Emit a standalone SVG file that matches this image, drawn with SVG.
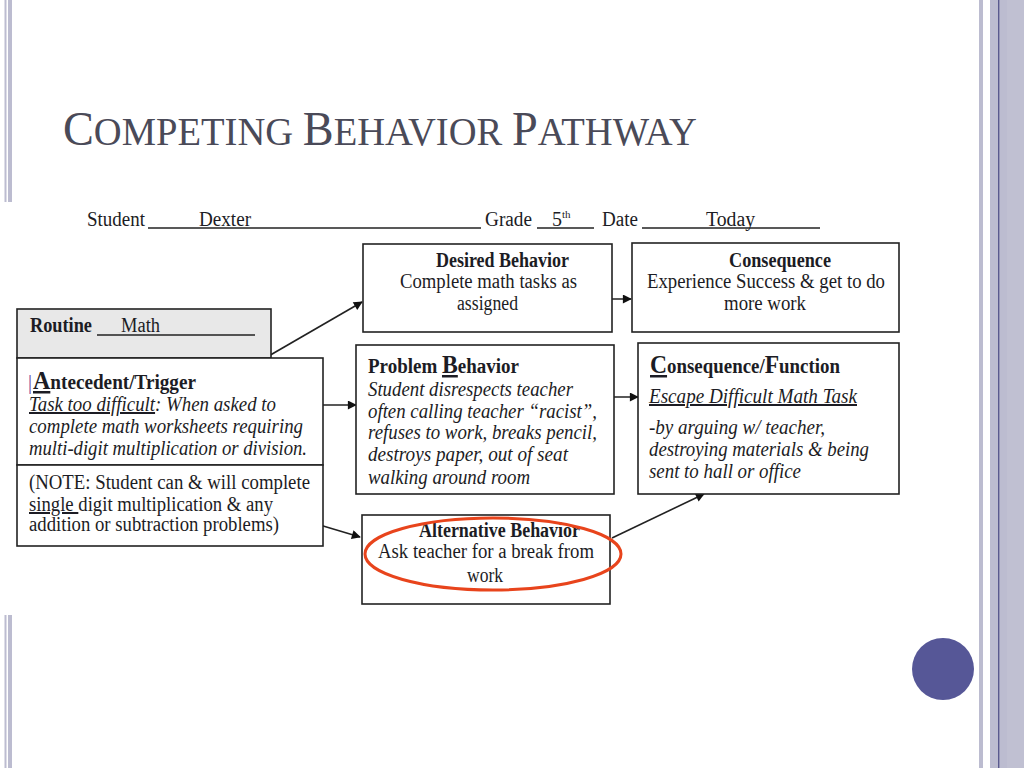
<svg xmlns="http://www.w3.org/2000/svg" width="1024" height="768" viewBox="0 0 1024 768">
<style>
.t{font-family:"Liberation Serif","Times New Roman",serif;font-size:20px;fill:#1c1c24}
.b{font-weight:bold}
.i{font-style:italic}
.u{text-decoration:underline}
.box{fill:#fff;stroke:#222;stroke-width:1.6}
.ln{stroke:#222;stroke-width:1.6;fill:none}
.bar{fill:#bcbcd0}
</style>
<defs>
<marker id="ah" viewBox="0 0 10 10" refX="9" refY="5" markerWidth="10" markerHeight="9" markerUnits="userSpaceOnUse" orient="auto">
<path d="M0,0 L10,5 L0,10 z" fill="#111"/>
</marker>
</defs>
<rect width="1024" height="768" fill="#fff"/>
<g id="frame">
<rect class="bar" x="4.5" y="0" width="2" height="202"/>
<rect class="bar" x="8" y="0" width="4" height="202"/>
<rect class="bar" x="4.5" y="615" width="2" height="153"/>
<rect class="bar" x="8" y="615" width="4" height="153"/>
<rect class="bar" x="979" y="0" width="4" height="768"/>
<rect class="bar" x="990" y="0" width="34" height="768"/>
<rect x="1007" y="0" width="17" height="768" fill="#c0c0d2"/>
<rect x="998" y="0" width="1.4" height="768" fill="#5a5a8e"/>
</g>
<g id="title">
<text x="63" y="145" font-family="'Liberation Serif','Times New Roman',serif" fill="#4a4a58" font-size="40" textLength="634" lengthAdjust="spacingAndGlyphs"><tspan font-size="48">C</tspan>OMPETING <tspan font-size="48">B</tspan>EHAVIOR <tspan font-size="48">P</tspan>ATHWAY</text>
</g>
<g id="header">
<text class="t" x="87" y="226" font-size="19" textLength="58" lengthAdjust="spacingAndGlyphs">Student</text>
<line class="ln" x1="148" y1="228" x2="481" y2="228"/>
<text class="t" x="199" y="226" font-size="19" textLength="52" lengthAdjust="spacingAndGlyphs">Dexter</text>
<text class="t" x="485" y="226" font-size="19" textLength="47" lengthAdjust="spacingAndGlyphs">Grade</text>
<line class="ln" x1="537" y1="228" x2="594" y2="228"/>
<text class="t" x="552" y="226" font-size="19">5<tspan font-size="11" dy="-8">th</tspan></text>
<text class="t" x="602" y="226" font-size="19" textLength="36" lengthAdjust="spacingAndGlyphs">Date</text>
<line class="ln" x1="642" y1="228" x2="820" y2="228"/>
<text class="t" x="706" y="226" font-size="19" textLength="49" lengthAdjust="spacingAndGlyphs">Today</text>
</g>
<g id="connectors">
<line class="ln" x1="222" y1="383" x2="362" y2="302" marker-end="url(#ah)"/>
<line class="ln" x1="302" y1="405" x2="356" y2="405" marker-end="url(#ah)"/>
<line class="ln" x1="293" y1="517" x2="360" y2="537" marker-end="url(#ah)"/>
<line class="ln" x1="594" y1="299" x2="631" y2="299" marker-end="url(#ah)"/>
<line class="ln" x1="605" y1="397" x2="638" y2="397" marker-end="url(#ah)"/>
<line class="ln" x1="612" y1="538" x2="704" y2="494" marker-end="url(#ah)"/>
</g>
<g id="routine">
<rect x="17" y="309" width="254" height="49" fill="#e8e8e8" stroke="#222" stroke-width="1.6"/>
<text class="t b" x="30" y="332" textLength="62" lengthAdjust="spacingAndGlyphs">Routine</text>
<line class="ln" x1="97" y1="335" x2="255" y2="335"/>
<text class="t" x="121" y="332" textLength="39" lengthAdjust="spacingAndGlyphs">Math</text>
</g>
<g id="antecedent">
<rect class="box" x="17" y="358" width="306" height="107"/>
<text class="t" x="28" y="389" style="fill:#6a4a9a">|</text>
<text class="t b" x="33" y="389" textLength="163" lengthAdjust="spacingAndGlyphs"><tspan class="u" font-size="25">A</tspan>ntecedent/Trigger</text>
<text class="t i" x="29" y="411" textLength="247" lengthAdjust="spacingAndGlyphs"><tspan class="u">Task too difficult</tspan>: When asked to</text>
<text class="t i" x="29" y="433" textLength="274" lengthAdjust="spacingAndGlyphs">complete math worksheets requiring</text>
<text class="t i" x="29" y="455" textLength="278" lengthAdjust="spacingAndGlyphs">multi-digit multiplication or division.</text>
</g>
<g id="note">
<rect class="box" x="17" y="465" width="306" height="81"/>
<text class="t" x="29" y="489" textLength="281" lengthAdjust="spacingAndGlyphs">(NOTE: Student can &amp; will complete</text>
<text class="t" x="29" y="511" textLength="244" lengthAdjust="spacingAndGlyphs"><tspan class="u">single </tspan>digit multiplication &amp; any</text>
<text class="t" x="29" y="531" textLength="250" lengthAdjust="spacingAndGlyphs">addition or subtraction problems)</text>
</g>
<g id="desired">
<rect class="box" x="363" y="244" width="249" height="88"/>
<text class="t b" x="436" y="267" textLength="133" lengthAdjust="spacingAndGlyphs">Desired Behavior</text>
<text class="t" x="400" y="288" textLength="177" lengthAdjust="spacingAndGlyphs">Complete math tasks as</text>
<text class="t" x="457" y="310" textLength="61" lengthAdjust="spacingAndGlyphs">assigned</text>
</g>
<g id="consequence">
<rect class="box" x="632" y="243" width="267" height="89"/>
<text class="t b" x="729" y="267" textLength="102" lengthAdjust="spacingAndGlyphs">Consequence</text>
<text class="t" x="647" y="288" textLength="238" lengthAdjust="spacingAndGlyphs">Experience Success &amp; get to do</text>
<text class="t" x="724" y="310" textLength="82" lengthAdjust="spacingAndGlyphs">more work</text>
</g>
<g id="problem">
<rect class="box" x="356" y="345" width="258" height="149"/>
<text class="t b" x="368" y="373" textLength="151" lengthAdjust="spacingAndGlyphs">Problem <tspan class="u" font-size="25">B</tspan>ehavior</text>
<text class="t i" x="368" y="396" textLength="205" lengthAdjust="spacingAndGlyphs">Student disrespects teacher</text>
<text class="t i" x="368" y="418" textLength="229" lengthAdjust="spacingAndGlyphs">often calling teacher “racist”,</text>
<text class="t i" x="368" y="439" textLength="229" lengthAdjust="spacingAndGlyphs">refuses to work, breaks pencil,</text>
<text class="t i" x="368" y="461" textLength="200" lengthAdjust="spacingAndGlyphs">destroys paper, out of seat</text>
<text class="t i" x="368" y="484" textLength="162" lengthAdjust="spacingAndGlyphs">walking around room</text>
</g>
<g id="function">
<rect class="box" x="638" y="343" width="261" height="151"/>
<text class="t b" x="650" y="373" textLength="190" lengthAdjust="spacingAndGlyphs"><tspan class="u" font-size="25">C</tspan>onsequence/<tspan font-size="25">F</tspan>unction</text>
<text class="t i u" x="649" y="403" textLength="208" lengthAdjust="spacingAndGlyphs">Escape Difficult Math Task</text>
<text class="t i" x="649" y="434" textLength="176" lengthAdjust="spacingAndGlyphs">-by arguing w/ teacher,</text>
<text class="t i" x="649" y="456" textLength="220" lengthAdjust="spacingAndGlyphs">destroying materials &amp; being</text>
<text class="t i" x="649" y="478" textLength="152" lengthAdjust="spacingAndGlyphs">sent to hall or office</text>
</g>
<g id="alternative">
<rect class="box" x="362" y="515" width="248" height="89"/>
<text class="t b" x="419" y="537" textLength="161" lengthAdjust="spacingAndGlyphs">Alternative Behavior</text>
<text class="t" x="378" y="558" textLength="216" lengthAdjust="spacingAndGlyphs">Ask teacher for a break from</text>
<text class="t" x="467" y="582" textLength="36" lengthAdjust="spacingAndGlyphs">work</text>
<ellipse cx="493" cy="554" rx="128" ry="36" fill="none" stroke="#e8441c" stroke-width="3"/>
</g>
<g id="dot">
<circle cx="943" cy="669" r="31" fill="#565797"/>
</g>
</svg>
